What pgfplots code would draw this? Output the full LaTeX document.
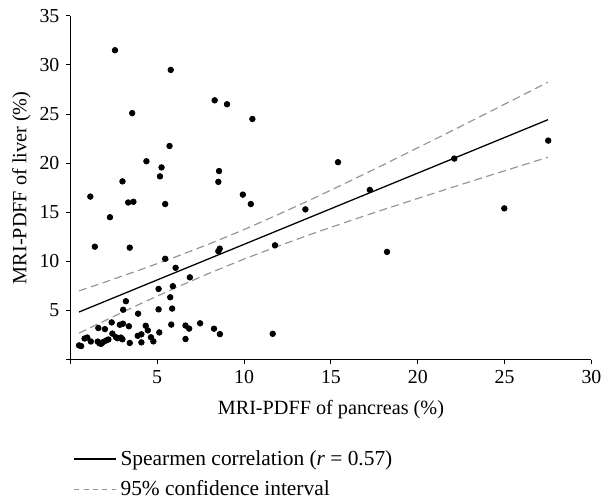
\documentclass[border=0pt]{standalone}
\usepackage{fontspec}
\setmainfont{Liberation Serif}
\usepackage{pgfplots}
\pgfplotsset{compat=1.18}

\definecolor{cigray}{RGB}{150,150,150}

\begin{document}
\begin{tikzpicture}
\begin{axis}[
    scale only axis,
    width=263pt,
    height=173.5pt,
    xmin=0, xmax=30,
    ymin=0, ymax=35,
    axis x line*=bottom,
    axis y line*=left,
    axis line style={line width=0.5pt},
    tick align=outside,
    major tick length=2pt,
    tick style={line width=0.5pt, black},
    xtick={0,5,...,30},
    xticklabels={,5,10,15,20,25,30},
    ytick={0,5,...,35},
    yticklabels={,5,10,15,20,25,30,35},
    tick label style={font=\fontsize{10}{12}\selectfont},
    label style={font=\fontsize{10.2}{12}\selectfont},
    xlabel={MRI-PDFF of pancreas (\%)},
    ylabel={MRI-PDFF of liver (\%)},
    xlabel style={at={(axis description cs:0.5,-0.144)}, anchor=center},
    ylabel style={at={(axis description cs:-0.094,0.5)}, anchor=center},
    clip=false,
    legend style={
        at={(axis description cs:0,0)}, anchor=north west,
        xshift=1.5pt, yshift=-43.5pt,
        draw=none, fill=none, inner sep=0pt,
        row sep=2.5pt,
        font=\fontsize{10.8}{13}\selectfont,
        cells={anchor=west},
    },
    legend image code/.code={\draw[#1] (0pt,0pt) -- (17pt,0pt); \path (0pt,0pt) -- (21pt,0pt);},
]

% measured points
\addplot[only marks, mark=*, mark size=1.4pt, black, forget plot] coordinates {
    (2.57,31.5) (5.78,29.5) (8.31,26.4) (9.02,26.0) (3.56,25.1)
    (10.48,24.5) (5.71,21.75) (4.38,20.2) (5.25,19.57) (5.16,18.66)
    (8.56,19.2) (8.52,18.1) (3.0,18.15) (9.93,16.8) (1.15,16.6)
    (3.33,16.0) (3.63,16.07) (10.39,15.84) (5.46,15.84) (2.28,14.5)
    (13.53,15.3) (1.41,11.5) (3.42,11.4) (8.6,11.3) (8.52,11.04)
    (11.78,11.64) (5.46,10.27) (6.06,9.35) (6.88,8.38) (5.9,7.48)
    (5.08,7.2) (5.75,6.35) (3.2,5.95) (3.04,5.08) (5.08,5.12)
    (5.86,5.2) (3.9,4.68)
    (27.51,22.3) (22.1,20.47) (15.41,20.1) (17.24,17.28) (24.98,15.4)
    (18.23,10.97)
    (2.38,3.79) (2.85,3.55) (3.03,3.66) (3.37,3.4) (1.61,3.22)
    (1.99,3.11) (4.34,3.45) (4.46,2.98) (5.81,3.57) (7.47,3.7)
    (6.63,3.47) (6.84,3.16) (8.27,3.15) (8.61,2.6) (11.65,2.63)
    (2.42,2.65) (4.09,2.58) (3.88,2.43) (5.12,2.77) (4.64,2.28)
    (4.78,1.86) (0.97,2.25) (0.82,2.15) (1.18,1.85) (1.58,1.84)
    (1.67,1.67) (1.77,1.61) (1.87,1.77) (2.05,1.94) (2.19,2.05)
    (2.63,2.28) (2.72,2.18) (2.91,2.25) (3.0,2.07) (3.42,1.7)
    (4.09,1.76) (6.63,2.1) (0.5,1.45) (0.62,1.38)
};

% regression line
\addplot[black, line width=0.65pt] coordinates {(0.5,4.85) (27.5,24.43)};
\addlegendentry{Spearmen correlation (\textit{r} = 0.57)}

% 95% confidence band
\addplot[cigray, line width=0.6pt, dash pattern=on 4pt off 2.3pt, forget plot] coordinates {
    (0.5,7.00) (2,7.90) (4,9.13) (6,10.42) (8,11.78) (10,13.24)
    (12,14.80) (14,16.42) (16,18.10) (18,19.82) (20,21.57)
    (22,23.33) (24,25.11) (26,26.90) (27.5,28.25)
};
\addplot[cigray, line width=0.6pt, dash pattern=on 4pt off 2.3pt, forget plot] coordinates {
    (0.5,2.70) (2,3.98) (4,5.66) (6,7.27) (8,8.80) (10,10.24)
    (12,11.58) (14,12.86) (16,14.08) (18,15.26) (20,16.41)
    (22,17.55) (24,18.67) (26,19.78) (27.5,20.61)
};
\addlegendimage{cigray, line width=0.5pt, dash pattern=on 2.5pt off 2.2pt}
\addlegendentry{95\% confidence interval}

\end{axis}
% keep the page at the reference's size
\path (current axis.south west) ++(-35.5pt,-67.5pt) rectangle ++(304pt,249pt);
\end{tikzpicture}
\end{document}
